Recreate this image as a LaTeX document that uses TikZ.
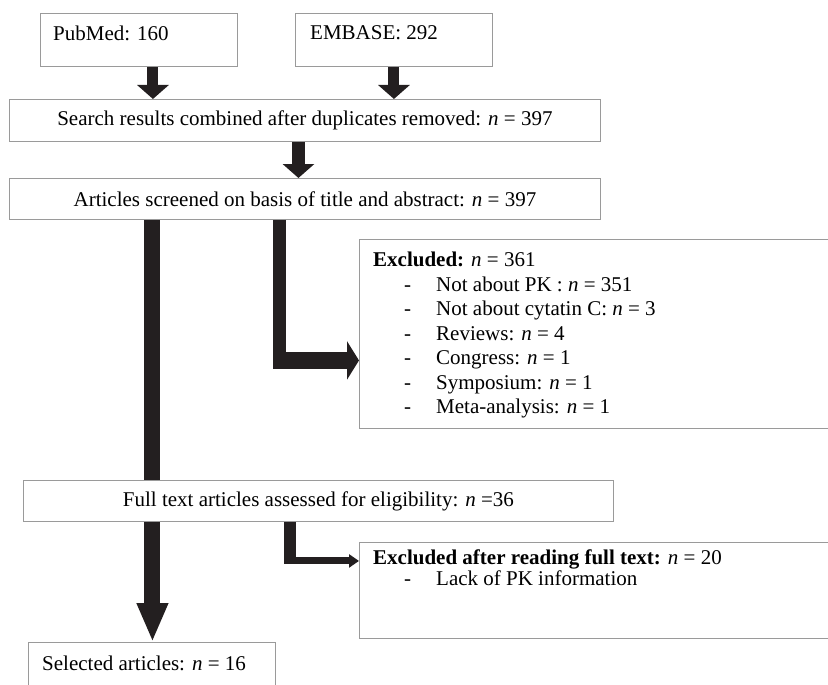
\documentclass[tikz,border=0pt]{standalone}
\usepackage{fontspec}
\setmainfont{Liberation Serif}
\usepackage{tikz}
\usetikzlibrary{arrows.meta}
\usetikzlibrary{positioning}
\definecolor{boxline}{HTML}{9A9A9A}
\definecolor{arrowfill}{HTML}{231F20}
\tikzset{
  box/.style={draw=boxline, line width=0.9pt, inner sep=0pt, anchor=north west},
  txt/.style={inner sep=0pt, anchor=west},
  listtxt/.style={inner sep=0pt, anchor=north west, align=left},
  shaft/.style={draw=arrowfill, line width=#1},
}
\newcommand{\dashitem}{\hspace*{31pt}\makebox[32pt][l]{-}}

\begin{document}
\begin{tikzpicture}[x=1pt, y=-1pt, font=\fontsize{21}{24.5}\selectfont]
       \useasboundingbox (0,0) rectangle (828,685);
       \node[box, minimum width=197pt, minimum height=53pt] (pubmed) at (40,13) {};
       \node[box, minimum width=197pt, minimum height=53pt] (embase) at (295,13) {};
       \node[txt] (pubmedtxt) at (53,33) {PubMed: 160};
       \node[txt] (embasetxt) at (310,33) {EMBASE: 292};
       \node[box, minimum width=591pt, minimum height=42pt] (search) at (9,99) {Search results combined after duplicates removed: \textit{n} = 397};
       \node[box, minimum width=591pt, minimum height=41pt] (screen) at (9,178) {Articles screened on basis of title and abstract: \textit{n} = 397};
       \node[box, minimum width=471pt, minimum height=189pt] (excl) at (359,239) {};
       \node[listtxt] (excltxt) at (373,252) {\textbf{Excluded:} \textit{n} = 361\\
              \dashitem Not about PK : \textit{n} = 351\\
              \dashitem Not about cytatin C: \textit{n} = 3\\
              \dashitem Reviews: \textit{n} = 4\\
              \dashitem Congress: \textit{n} = 1\\
              \dashitem Symposium: \textit{n} = 1\\
              \dashitem Meta-analysis: \textit{n} = 1};
       \node[box, minimum width=590pt, minimum height=41pt] (fulltext) at (23,480) {Full text articles assessed for eligibility: \textit{n} =36};
       \node[box, minimum width=471pt, minimum height=96pt] (exclfull) at (359,542) {};
       \node[listtxt] (exclfulltxt) at (373,550) {\textbf{Excluded after reading full text:} \textit{n} = 20\\[-3.5pt]
              \dashitem Lack of PK information};
       \node[box, minimum width=247pt, minimum height=50pt] (selected) at (28,642) {};
       \node[txt] (selectedtxt) at (42,663) {Selected articles: \textit{n} = 16};

       \coordinate (pm) at ([xshift=14pt]pubmed.south);
       \coordinate (sr) at ([xshift=-6.5pt]search.south);
       \coordinate (lt) at ([xshift=-152.5pt]screen.south);
       \coordinate (rt) at ([xshift=-25pt]screen.south);
       \coordinate (exin) at ([yshift=-26.5pt]excl.west);
       \coordinate (bend) at (rt |- exin);
       \coordinate (ls) at ([xshift=-166pt]fulltext.south);
       \coordinate (rs) at ([xshift=-28pt]fulltext.south);
       \coordinate (exfin) at ([yshift=29.5pt]exclfull.west);
       \coordinate (bendfull) at (rs |- exfin);

       \draw[shaft=11pt, -{Triangle[width=31pt, length=14pt]}] (pm) -- (pm |- search.north);
       \draw[shaft=11pt, -{Triangle[width=31pt, length=14pt]}] (embase.south) -- (embase.south |- search.north);
       \draw[shaft=13pt, -{Triangle[width=31pt, length=14pt]}] (sr) -- (sr |- screen.north);
       \draw[shaft=16pt] (lt) -- (lt |- fulltext.north);
       \draw[shaft=13pt] (rt) -- ([yshift=-8.5pt]bend);
       \draw[shaft=17pt, -{Triangle[width=38pt, length=12pt]}] ([xshift=-6.5pt]bend) -- (exin);
       \draw[shaft=16pt, -{Triangle[width=29pt, length=39pt]}] (ls) -- (ls |- selected.north);
       \draw[shaft=12pt] (rs) -- ([yshift=-3.5pt]bendfull);
       \draw[shaft=7pt, -{Triangle[width=13pt, length=10pt]}] ([xshift=-6pt]bendfull) -- (exfin);
    \end{tikzpicture}
\end{document}
